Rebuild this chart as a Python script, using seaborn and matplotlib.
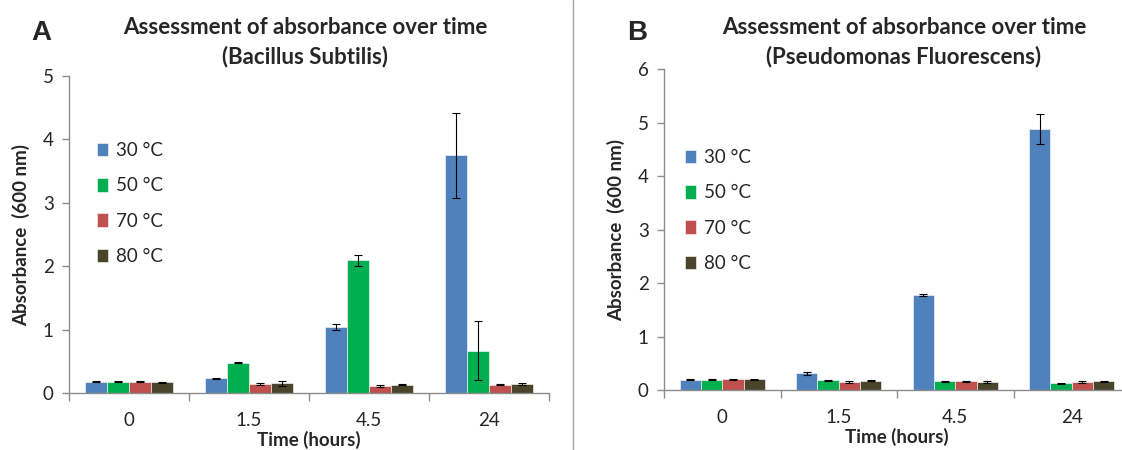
import numpy as np
import pandas as pd
import matplotlib
matplotlib.use("Agg")
import matplotlib.pyplot as plt
import seaborn as sns
from matplotlib.patches import Patch
from matplotlib.lines import Line2D

# ---- data ----
times = ["0", "1.5", "4.5", "24"]
temps = ["30 °C", "50 °C", "70 °C", "80 °C"]
colors = ["#4F81BD", "#00B050", "#C0504D", "#4A452A"]

bs_30 = [0.18, 0.23, 1.04, 3.75]
bs_50 = [0.18, 0.48, 2.09, 0.67]
bs_70 = [0.18, 0.14, 0.11, 0.13]
bs_80 = [0.17, 0.15, 0.13, 0.14]
bs_30_err = [0.01, 0.01, 0.05, 0.67]
bs_50_err = [0.01, 0.01, 0.09, 0.47]
bs_70_err = [0.01, 0.01, 0.01, 0.01]
bs_80_err = [0.01, 0.04, 0.01, 0.01]

pf_30 = [0.19, 0.31, 1.77, 4.89]
pf_50 = [0.19, 0.18, 0.16, 0.13]
pf_70 = [0.20, 0.15, 0.16, 0.15]
pf_80 = [0.20, 0.17, 0.15, 0.16]
pf_30_err = [0.01, 0.03, 0.02, 0.28]
pf_50_err = [0.01, 0.01, 0.01, 0.01]
pf_70_err = [0.01, 0.01, 0.01, 0.01]
pf_80_err = [0.01, 0.01, 0.01, 0.01]

titles = ["Assessment of absorbance over time\n(Bacillus Subtilis)",
          "Assessment of absorbance over time\n(Pseudomonas Fluorescens)"]
panel_labels = ["A", "B"]
xlabel = "Time (hours)"
ylabel = "Absorbance  (600 nm)"


def make_df(series, errs):
    rows = []
    for temp, vals, es in zip(temps, series, errs):
        for t, v, e in zip(times, vals, es):
            rows.append({"time": t, "temp": temp, "value": v, "err": e})
    return pd.DataFrame(rows)


df_bs = make_df([bs_30, bs_50, bs_70, bs_80], [bs_30_err, bs_50_err, bs_70_err, bs_80_err])
df_pf = make_df([pf_30, pf_50, pf_70, pf_80], [pf_30_err, pf_50_err, pf_70_err, pf_80_err])

sns.set_style("white")
plt.rcParams["font.family"] = ["Lato", "DejaVu Sans"]

W, H = 1122, 450
fig = plt.figure(figsize=(W / 100, H / 100), dpi=100)

# left px, right px, y px of ymax, y px of 0, ymax, legend first-row y px, legend square x px, title cx, letter x
layout = [
    (69, 549, 76, 393, 5, 153, 97, 305, 41),
    (664, 1130, 69.3, 390, 6, 160, 685, 904, 637),
]
spine_col = "#8C8C8C"

for i, (df, (x0, x1, ytop, ybot, ymax, legy, legx, tcx, lx)) in enumerate(zip([df_bs, df_pf], layout)):
    ax = fig.add_axes([x0 / W, 1 - ybot / H, (x1 - x0) / W, (ybot - ytop) / H])
    sns.barplot(data=df, x="time", y="value", hue="temp", order=times,
                hue_order=temps, palette=colors, width=0.73, errorbar=None,
                saturation=1, ax=ax, edgecolor="#FFFFFF", linewidth=0.4, legend=False)
    for cont, temp in zip(ax.containers, temps):
        sub = df[df["temp"] == temp].set_index("time").loc[times]
        xs = [p.get_x() + p.get_width() / 2 for p in cont.patches]
        ax.errorbar(xs, sub["value"].values, yerr=sub["err"].values, fmt="none",
                    ecolor="black", elinewidth=0.8, capsize=3, capthick=0.8, zorder=5)
    ax.set_xlim(-0.5, len(times) - 0.5)
    ax.set_ylim(0, ymax)
    ax.set_yticks(range(0, ymax + 1))
    for s in ["top", "right"]:
        ax.spines[s].set_visible(False)
    for s in ["left", "bottom"]:
        ax.spines[s].set_color(spine_col)
        ax.spines[s].set_linewidth(1.0)
    ax.tick_params(axis="y", which="major", length=5, width=1, color=spine_col,
                   direction="out", labelsize=13.5, pad=6, left=True)
    ax.tick_params(axis="x", which="major", length=0, labelsize=13.5, pad=14)
    ax.set_xticks(np.arange(-0.5, len(times)), minor=True)
    ax.tick_params(axis="x", which="minor", length=6, width=1, color=spine_col,
                   direction="out", bottom=True)
    ax.set_xlabel(xlabel, fontsize=13.5, fontweight="bold", labelpad=1)
    ax.set_ylabel(ylabel, fontsize=13.5, fontweight="bold", labelpad=9)
    ax.grid(False)
    ax.set_facecolor("white")

    handles = [Patch(facecolor=c, edgecolor="white", linewidth=0.4) for c in colors]
    ax.legend(handles, temps, loc="upper left",
              bbox_to_anchor=((legx - x0) / (x1 - x0), (ybot - legy + 11) / (ybot - ytop)),
              frameon=False, fontsize=13.5, handlelength=0.6, handleheight=0.75,
              handletextpad=0.4, labelspacing=0.98, borderaxespad=0, borderpad=0)

    fig.text(tcx / W, 1 - 17 / H, titles[i], ha="center", va="top",
             fontsize=16, fontweight="bold", linespacing=1.45)
    fig.text(lx / W, 1 - 33 / H, panel_labels[i], ha="center",
             va="center", fontsize=20, fontweight="bold",
             family=["Liberation Sans", "DejaVu Sans"])

fig.add_artist(Line2D([573 / W, 573 / W], [0, 1], color="#A6A6A6", linewidth=1.0))

fig.savefig("out.png", dpi=100, facecolor="white")
